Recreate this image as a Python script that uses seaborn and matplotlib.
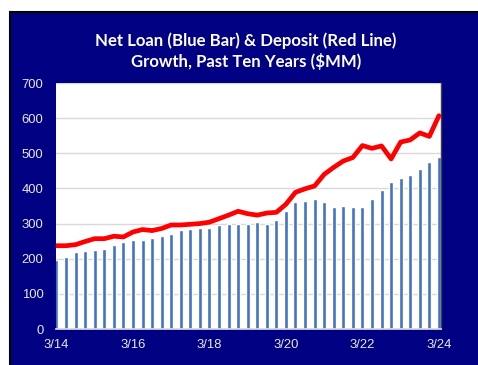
import numpy as np
import pandas as pd
import seaborn as sns
import matplotlib
matplotlib.use("Agg")
import matplotlib.pyplot as plt
from matplotlib.patches import Rectangle

# quarterly values, 3/14 .. 3/24 ($MM)
net_loans = [197, 205, 218, 223, 226, 228, 240, 248, 253, 253,
             260, 266, 270, 282, 285, 287, 287, 295, 300, 298,
             300, 304, 300, 310, 335, 362, 365, 371, 362, 347,
             350, 347, 348, 369, 396, 417, 431, 438, 456, 476, 490]
deposits = [237, 237, 240, 249, 257, 257, 264, 262, 276, 283,
            280, 286, 296, 296, 298, 300, 304, 314, 324, 335,
            328, 324, 330, 332, 355, 389, 399, 407, 440, 460,
            478, 488, 522, 514, 521, 484, 532, 538, 558, 548, 607]
tick_labels = ["3/14", "3/16", "3/18", "3/20", "3/22", "3/24"]
y_ticks = [0, 100, 200, 300, 400, 500, 600, 700]

TITLE = "Net Loan (Blue Bar) & Deposit (Red Line)\nGrowth, Past Ten Years ($MM)"
NAVY = "#000083"
BAR_BLUE = "#4472C4"
TXT = "#E6E6E6"

df = pd.DataFrame({
    "q": np.arange(len(net_loans)),
    "loan": net_loans,
    "deposit": deposits,
})

sns.set_theme(style="white")
plt.rcParams["font.family"] = ["Liberation Sans", "DejaVu Sans"]

fig = plt.figure(figsize=(4.78, 3.65), dpi=100)
fig.patch.set_facecolor("white")
fig.patches.append(Rectangle((10 / 478, -0.01), 1.0, (365 - 12) / 365 + 0.01,
                             transform=fig.transFigure, facecolor=NAVY,
                             edgecolor="black", linewidth=1.5, zorder=-10))

ax = fig.add_axes([56 / 478, 1 - 329 / 365, (441 - 56) / 478, (329 - 83) / 365])
ax.set_facecolor("white")

sns.barplot(data=df, x="q", y="loan", native_scale=True, width=0.42,
            color=BAR_BLUE, saturation=1, ax=ax, zorder=2)
sns.lineplot(data=df, x="q", y="deposit", color="#FF0000", linewidth=3.4,
             ax=ax, zorder=3)

ax.set_xlim(-0.05, 40.22)
ax.set_ylim(0, 700)
ax.set_yticks(y_ticks)
ax.set_xticks(np.arange(0, len(net_loans), 8))
ax.set_xticklabels(tick_labels)
ax.set_xlabel("")
ax.set_ylabel("")
ax.yaxis.grid(True, color="#D9D9D9", linewidth=1)
ax.set_axisbelow(True)

ax.tick_params(axis="y", length=0, pad=9, labelsize=9.4, labelcolor=TXT)
ax.tick_params(axis="x", length=3, width=1, color="#D9D9D9", direction="out",
               pad=4, labelsize=9.4, labelcolor=TXT)
for side in ["left", "top"]:
    ax.spines[side].set_visible(False)
ax.spines["bottom"].set_color("#D9D9D9")
ax.spines["right"].set_color("#404040")
ax.spines["right"].set_linewidth(1)

fig.text(246 / 478, 1 - 51 / 365, TITLE, ha="center", va="center",
         color="white", fontsize=12.1, fontweight="bold",
         family=["Lato", "DejaVu Sans"], linespacing=1.25)

fig.savefig("out.png", dpi=100, facecolor=fig.get_facecolor())
